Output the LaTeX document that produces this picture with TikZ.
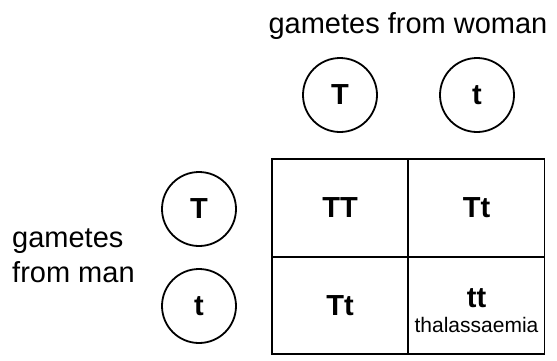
\documentclass[tikz,border=0pt]{standalone}
\usepackage{fontspec}
\setmainfont{Liberation Sans}
\begin{document}
\begin{tikzpicture}[x=1pt,y=-1pt,
  big/.style={font=\fontsize{29}{35}\selectfont},
  gam/.style={circle,draw,line width=1.8pt,minimum size=74pt,inner sep=0pt,font=\fontsize{29}{35}\selectfont\bfseries},
  cell/.style={draw,line width=1.8pt,minimum width=136pt,minimum height=97.5pt,inner sep=0pt,font=\fontsize{29}{35}\selectfont\bfseries},
  small/.style={font=\fontsize{21}{25}\selectfont,inner sep=0pt}]
\useasboundingbox (0,0) rectangle (557,360);
\node[big,anchor=base,inner sep=0pt] (title) at (408,33) {gametes from woman};
\node[gam] (wT) at (340,95) {T};
\node[gam] (wt) at (477,95) {t};
\node[gam] (mT) at (199,209) {T};
\node[gam] (mt) at (199,306) {t};
\node[big,anchor=base west,inner sep=0pt] (man1) at (12,247) {gametes};
\node[big,anchor=base west,inner sep=0pt] (man2) at (12,282) {from man};
\node[cell] (c11) at (340,208) {TT};
\node[cell] (c12) at (476.5,208) {Tt};
\node[cell] (c21) at (340,305.5) {Tt};
\node[cell] (c22) at (476.5,305.5) {};
\node[font=\fontsize{29}{35}\selectfont\bfseries,anchor=base,inner sep=0pt] (tt) at (476.5,307) {tt};
\node[small,anchor=base] (thal) at (476.5,332) {thalassaemia};
\end{tikzpicture}
\end{document}
